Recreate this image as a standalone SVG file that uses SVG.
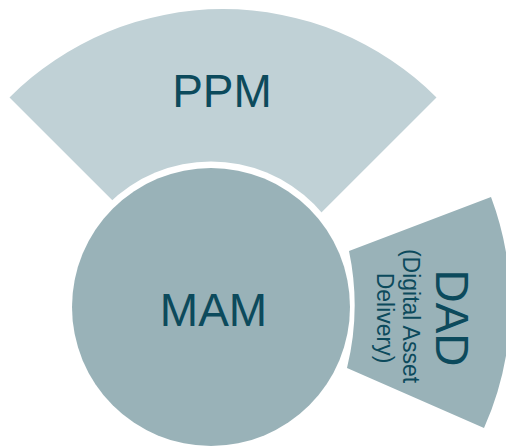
<svg xmlns="http://www.w3.org/2000/svg" width="506" height="448" viewBox="0 0 506 448">
<style>
.lbl{font-family:"Liberation Sans",Arial,sans-serif;fill:#0C4A5C;text-anchor:middle}
.big{font-size:46px}
.small{font-size:23px}
</style>
<rect width="506" height="448" fill="#FFFFFF"/>
<g id="ppm">
<path d="M 9.5 97.5 A 302 302 0 0 1 436.5 97.5 L 314.9 219.1 A 130 130 0 0 0 131.1 219.1 Z" fill="#C0D1D6"/>
<text class="lbl big" x="222" y="107">PPM</text>
</g>
<circle cx="211" cy="307" r="145.5" fill="#FFFFFF"/>
<g id="dad">
<path d="M 349 251 L 491 197 A 305 305 0 0 1 484 428 L 347 368 A 264 264 0 0 0 349 251 Z" fill="#99B2B8"/>
<text class="lbl big" transform="translate(436,318) rotate(90)">DAD</text>
<text class="lbl small" transform="translate(403,316) rotate(90)">(Digital Asset</text>
<text class="lbl small" transform="translate(377,318) rotate(90)">Delivery)</text>
</g>
<g id="mam">
<circle cx="211" cy="307" r="139" fill="#99B2B8"/>
<text class="lbl big" x="213.5" y="326">MAM</text>
</g>
<g id="connectors"/>
</svg>
